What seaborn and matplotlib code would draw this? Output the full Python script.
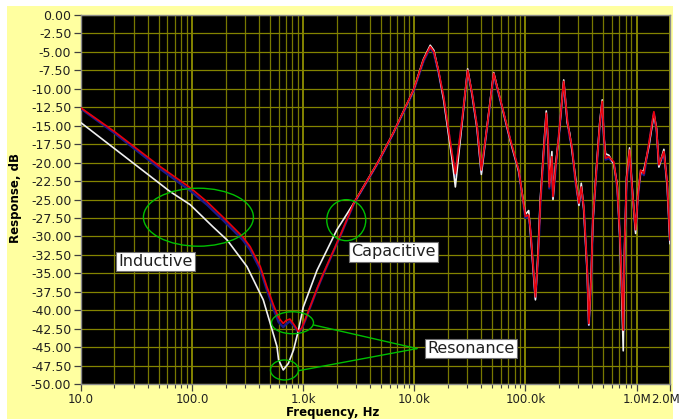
import matplotlib
matplotlib.use("Agg")
import matplotlib.pyplot as plt
import matplotlib.transforms as mtransforms
import pandas as pd
import seaborn as sns
from matplotlib.patches import Ellipse, Rectangle
from matplotlib.ticker import FixedLocator, FixedFormatter, LogLocator, NullFormatter

# ---------------- data ----------------
# low-frequency part of each trace
red_lo_freq = [10, 20, 50, 96, 136, 190, 287, 333, 411, 470, 540, 600, 661, 700,
               760, 830, 906, 970, 1040, 1330, 1520, 2150]
red_lo_db = [-12.6, -15.8, -20.4, -23.4, -25.3, -27.4, -30.1, -31.4, -34.1, -36.8,
             -39.3, -41.0, -41.8, -41.4, -41.2, -42.0, -42.9, -42.4, -41.3, -37.1,
             -35.0, -29.9]

navy_lo_freq = [10, 20, 50, 96, 136, 190, 287, 333, 411, 470, 540, 600, 661, 700,
                760, 830, 906, 970, 1040, 1330, 1520, 2150]
navy_lo_db = [-12.7, -16.0, -20.7, -23.8, -25.7, -27.8, -30.5, -31.8, -34.5, -37.2,
              -39.8, -41.6, -42.3, -41.9, -41.5, -42.2, -43.0, -42.5, -41.4, -37.2,
              -35.1, -30.0]

white_lo_freq = [10, 20, 40, 63, 96, 154, 207, 312, 437, 505, 580, 600, 661, 736,
                 818, 906, 1000, 1330, 2010]
white_lo_db = [-14.6, -18.1, -21.6, -23.9, -25.7, -28.7, -30.5, -34.1, -38.6, -41.8,
               -44.9, -46.7, -48.1, -47.2, -45.4, -42.7, -39.6, -34.6, -29.1]

# high-frequency part (shared frequency grid)
hi_freq = [2850, 4640, 6450, 9800, 12070, 13900, 15000, 16500, 18370, 21830, 23400,
           26900, 30200, 33100, 36700, 40100, 45200, 51800, 61700, 73300, 87000,
           100000, 107000, 111000, 123000, 130000, 136000, 154000, 160000, 164000,
           173000, 177000, 186000, 199000, 221000, 238000, 250000, 262000, 282000,
           303000, 318000, 335000, 360000, 372000, 391000, 404000, 433000, 467000,
           491000, 507000, 526000, 563000, 624000, 670000, 707000, 733000, 759000,
           780000, 813000, 865000, 914000, 980000, 1028000, 1087000, 1164000,
           1291000, 1432000, 1514000, 1589000, 1762000, 1889000, 2000000]
red_hi_db = [-25.5, -20.1, -16.0, -10.2, -6.1, -4.3, -5.0, -7.5, -11.1, -18.7, -21.5,
             -14.2, -7.5, -10.6, -15.1, -21.0, -15.1, -7.9, -12.4, -16.9, -21.0,
             -27.3, -27.1, -29.1, -38.2, -32.7, -25.5, -13.3, -16.9, -23.3,
             -19.2, -24.6, -21.0, -16.5, -9.0, -14.2, -16.3, -17.8, -22.4,
             -25.5, -23.3, -26.0, -34.6, -41.8, -35.5, -27.8, -21.5, -14.7,
             -11.7, -16.0, -19.4, -19.2, -19.9, -23.3, -29.6, -35.9, -42.7,
             -31.4, -22.4, -18.3, -23.7, -29.1, -24.6, -21.0, -21.5,
             -17.4, -13.1, -15.6, -20.3, -18.5, -22.8, -30.5]
white_hi_db = [-25.5, -20.1, -16.0, -10.2, -6.0, -4.1, -4.8, -7.6, -11.5, -19.5, -23.3,
               -14.6, -7.3, -10.8, -15.4, -21.6, -15.0, -7.8, -12.5, -17.1, -21.2,
               -27.0, -26.5, -29.5, -38.6, -32.0, -25.0, -13.0, -17.5, -22.8,
               -18.5, -25.0, -20.5, -16.8, -8.8, -14.6, -16.0, -18.3, -22.0,
               -25.8, -22.8, -26.4, -35.0, -42.0, -35.0, -28.2, -21.2, -14.5,
               -11.5, -16.4, -18.8, -19.0, -20.2, -23.0, -30.2, -37.0, -45.5,
               -32.0, -22.0, -18.0, -23.4, -29.6, -24.2, -21.4, -21.0,
               -17.8, -13.4, -15.4, -20.6, -18.2, -23.2, -31.0]
navy_hi_db = [-25.6, -20.2, -16.1, -10.4, -6.3, -4.4, -5.2, -7.8, -11.4, -19.0, -21.8,
              -14.4, -7.6, -10.8, -15.3, -21.3, -15.3, -8.1, -12.6, -17.1, -21.2,
              -27.5, -27.3, -29.3, -38.4, -32.9, -25.7, -13.5, -17.1, -23.5,
              -19.4, -24.8, -21.2, -16.7, -9.2, -14.4, -16.5, -18.0, -22.6,
              -25.7, -23.5, -26.2, -34.8, -42.0, -35.7, -28.0, -21.7, -14.9,
              -11.9, -16.2, -19.6, -19.4, -20.1, -23.5, -29.8, -36.1, -42.9,
              -31.6, -22.6, -18.5, -23.9, -29.3, -24.8, -21.2, -21.7,
              -17.6, -13.3, -15.8, -20.5, -18.7, -23.0, -30.7]

x_ticks = [10, 100, 1e3, 1e4, 1e5, 1e6, 2e6]
x_tick_labels = ["10.0", "100.0", "1.0k", "10.0k", "100.0k", "1.0M", "2.0M"]
y_ticks = [0.0, -2.5, -5.0, -7.5, -10.0, -12.5, -15.0, -17.5, -20.0, -22.5, -25.0,
           -27.5, -30.0, -32.5, -35.0, -37.5, -40.0, -42.5, -45.0, -47.5, -50.0]

# annotation anchors (frequency, dB)
inductive_ellipse = (114, -27.4)
capacitive_circle = (2440, -27.8)
res_upper_ellipse = (801, -41.7)
res_lower_ellipse = (678, -48.1)
res_upper_line_start = (1238, -42.0)
res_lower_line_start = (907, -48.2)
res_line_end = (10570, -45.2)
inductive_label = (47.1, -33.4)
capacitive_label = (6470, -32.1)
resonance_label = (32600, -45.2)

# ---------------- figure ----------------
sns.set_theme(style="dark")
plt.rcParams["font.family"] = ["DejaVu Sans"]

W, H = 681, 419
fig = plt.figure(figsize=(W / 100, H / 100), dpi=100)
fig.patch.set_facecolor("white")
fig.patches.append(Rectangle((7 / W, 0), (673 - 7) / W, (H - 6) / H,
                             transform=fig.transFigure, facecolor="#ffffa0",
                             edgecolor="none", zorder=-10))

ax = fig.add_axes([81 / W, (H - 384) / H, 589 / W, 369 / H])
ax.set_facecolor("black")

def make_df(freq, db):
    return pd.DataFrame({"freq": freq, "db": db})

navy_df = make_df(navy_lo_freq + hi_freq, navy_lo_db + navy_hi_db)
white_df = make_df(white_lo_freq + hi_freq, white_lo_db + white_hi_db)
red_df = make_df(red_lo_freq + hi_freq, red_lo_db + red_hi_db)

sns.lineplot(data=navy_df, x="freq", y="db", ax=ax, color="#1a1a8c",
             linewidth=1.7, estimator=None, sort=False, zorder=3)
sns.lineplot(data=white_df, x="freq", y="db", ax=ax, color="#f0f0f0",
             linewidth=1.2, estimator=None, sort=False, zorder=4)
sns.lineplot(data=red_df, x="freq", y="db", ax=ax, color="#e8000b",
             linewidth=1.25, estimator=None, sort=False, zorder=5)

ax.set_xscale("log")
ax.set_xlim(10, 2e6)
ax.set_ylim(-50, 0)

ax.xaxis.set_major_locator(FixedLocator(x_ticks))
ax.xaxis.set_major_formatter(FixedFormatter(x_tick_labels))
ax.xaxis.set_minor_locator(LogLocator(base=10, subs=[2, 3, 4, 5, 6, 7, 8, 9], numticks=20))
ax.xaxis.set_minor_formatter(NullFormatter())
ax.yaxis.set_major_locator(FixedLocator(y_ticks))
ax.yaxis.set_major_formatter(FixedFormatter([f"{v:.2f}" for v in y_ticks]))

ax.grid(False)
ax.grid(which="major", axis="x", color="#a8a800", linewidth=1.1, zorder=1)
ax.grid(which="minor", axis="x", color="#787800", linewidth=0.9, zorder=1)
ax.grid(which="major", axis="y", color="#848400", linewidth=0.9, zorder=1)
ax.set_axisbelow(True)

ax.tick_params(axis="both", which="major", direction="out", length=5, width=0.9,
               color="#404040", labelcolor="#202020",
               bottom=True, left=True, top=False, right=False)
ax.tick_params(axis="y", which="major", labelsize=9, pad=2)
ax.tick_params(axis="x", which="major", labelsize=8.5, pad=1.5)
ax.tick_params(axis="x", which="minor", direction="out", length=3, width=0.8,
               color="#404040", bottom=True, top=False)
for s in ax.spines.values():
    s.set_color("#8a8a8a")
    s.set_linewidth(1.0)

# keep the last x tick label ("2.0M") inside the canvas
fig.canvas.draw()
last = ax.xaxis.get_major_ticks()[-1].label1
last.set_horizontalalignment("right")
last.set_transform(last.get_transform() +
                   mtransforms.ScaledTranslation(0.10, 0, fig.dpi_scale_trans))

ax.set_xlabel("Frequency, Hz", fontsize=8.5, fontweight="bold", color="black")
ax.set_ylabel("Response, dB", fontsize=8.5, fontweight="bold", color="black")
ax.xaxis.set_label_coords((333 - 81) / 589, (384 - 405.5) / 369)
ax.yaxis.set_label_coords((22 - 81) / 589, 0.505)

# ---------------- annotations ----------------
to_axes = ax.transData + ax.transAxes.inverted()
green = "#00c000"

def ellipse(center, w_px, h_px):
    cx, cy = to_axes.transform(center)
    e = Ellipse((cx, cy), w_px / 589, h_px / 369, transform=ax.transAxes,
                fill=False, edgecolor=green, linewidth=1.0, zorder=6)
    ax.add_patch(e)

ellipse(inductive_ellipse, 110, 58)
ellipse(capacitive_circle, 39, 41)
ellipse(res_upper_ellipse, 42, 22)
ellipse(res_lower_ellipse, 28, 20)

for start in (res_upper_line_start, res_lower_line_start):
    ax.plot([start[0], res_line_end[0]], [start[1], res_line_end[1]],
            color=green, linewidth=1.0, zorder=6)

box = dict(boxstyle="square,pad=0.15", facecolor="white", edgecolor="#707070",
           linewidth=0.8)
for txt, pos in (("Inductive", inductive_label), ("Capacitive", capacitive_label),
                 ("Resonance", resonance_label)):
    ax.text(pos[0], pos[1], txt, fontsize=11.5, color="#202020", ha="center",
            va="center", bbox=box, zorder=7)

fig.savefig("out.png", dpi=100, facecolor=fig.get_facecolor())
